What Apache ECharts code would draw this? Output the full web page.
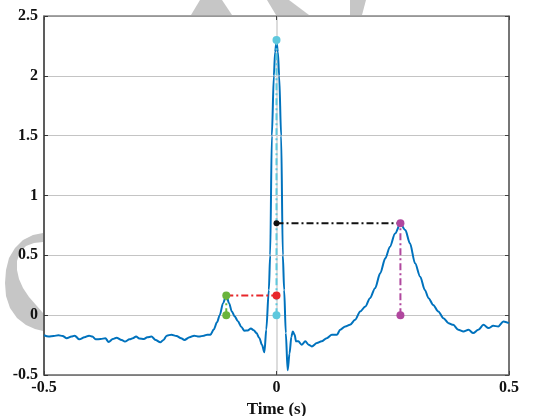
<!DOCTYPE html>
<html>
<head>
<meta charset="utf-8">
<script src="https://cdn.jsdelivr.net/npm/echarts@6/dist/echarts.min.js"></script>
<style>
    html, body { margin: 0; padding: 0; background: #fff; }
    #chart { width: 543px; height: 416px; }
</style>
</head>
<body>
<div id="chart"></div>
<script>
// waveform samples (time in s, amplitude)
var timeS = [
    -0.500, -0.490, -0.479, -0.469, -0.460, -0.451, -0.441, -0.434, -0.424, -0.413,
    -0.403, -0.396, -0.389, -0.378, -0.368, -0.361, -0.352, -0.344, -0.333, -0.326,
    -0.316, -0.309, -0.302, -0.295, -0.285, -0.278, -0.269, -0.260, -0.250, -0.243,
    -0.236, -0.226, -0.215, -0.205, -0.198, -0.187, -0.177, -0.167, -0.156, -0.149,
    -0.142, -0.135, -0.128, -0.122, -0.115, -0.108, -0.102, -0.096, -0.090, -0.083,
    -0.076, -0.069, -0.062, -0.055, -0.049, -0.043, -0.037, -0.031, -0.026, -0.022,
    -0.0165, -0.0136, -0.010, -0.0057, -0.003, 0, 0.003, 0.0057, 0.010, 0.0136,
    0.0165, 0.020, 0.024, 0.028, 0.032, 0.035, 0.039, 0.042, 0.047, 0.054,
    0.062, 0.069, 0.076, 0.087, 0.097, 0.108, 0.119, 0.130, 0.137, 0.148,
    0.158, 0.169, 0.180, 0.191, 0.201, 0.212, 0.223, 0.234, 0.244, 0.255,
    0.2665, 0.277, 0.287, 0.298, 0.309, 0.319, 0.327, 0.337, 0.348, 0.359,
    0.370, 0.380, 0.391, 0.402, 0.413, 0.423, 0.434, 0.445, 0.456, 0.466,
    0.477, 0.488, 0.500
];
var ecg = [
    -0.168, -0.179, -0.174, -0.168, -0.174, -0.193, -0.179, -0.171, -0.202, -0.185,
    -0.171, -0.179, -0.202, -0.199, -0.193, -0.224, -0.199, -0.188, -0.207, -0.221,
    -0.202, -0.193, -0.179, -0.196, -0.199, -0.185, -0.179, -0.207, -0.227, -0.207,
    -0.171, -0.163, -0.174, -0.193, -0.207, -0.185, -0.171, -0.179, -0.171, -0.163,
    -0.163, -0.120, -0.060, 0.000, 0.100, 0.165, 0.100, 0.030, -0.010, -0.050,
    -0.096, -0.130, -0.128, -0.112, -0.125, -0.150, -0.190, -0.250, -0.310, -0.120,
    0.210, 0.500, 1.500, 2.000, 2.200, 2.285, 2.200, 2.000, 1.500, 0.500,
    0.210, -0.150, -0.460, -0.320, -0.180, -0.136, -0.164, -0.219, -0.219, -0.247,
    -0.219, -0.247, -0.261, -0.233, -0.219, -0.192, -0.164, -0.164, -0.122, -0.094,
    -0.081, -0.039, 0.031, 0.072, 0.142, 0.225, 0.350, 0.475, 0.572, 0.683,
    0.765, 0.711, 0.600, 0.433, 0.322, 0.211, 0.142, 0.086, 0.031, -0.025,
    -0.067, -0.081, -0.122, -0.136, -0.122, -0.150, -0.122, -0.081, -0.108, -0.089,
    -0.094, -0.053, -0.067
];

// annotated points
var rPeak = [0, 2.30];
var pPeak = [-0.108, 0.164];
var tPeak = [0.2665, 0.768];

var wave = [];
for (var i = 0; i < timeS.length; i++) {
    wave.push([timeS[i], ecg[i]]);
}

var dashDot = [7, 3, 2, 3];
var font = "'Liberation Serif', 'DejaVu Serif', serif";
var wmGrey = "#c6c6c6";

function markLine(name, color, pts, z) {
    return {
        name: name,
        type: "line",
        data: pts,
        symbol: "circle",
        symbolSize: 8,
        showSymbol: true,
        itemStyle: { color: color },
        lineStyle: { color: color, width: 2, type: dashDot },
        z: z,
        silent: true
    };
}

var chart = echarts.init(document.getElementById("chart"));
var option = {
    animation: false,
    backgroundColor: "#fff",
    grid: { left: 44, right: 34, top: 16, bottom: 41, outerBoundsMode: "none", containLabel: false },
    graphic: [
        // grey watermark pieces outside the plot frame
        { type: "polygon", z: -10, shape: { points: [[200, 0], [222, 0], [232, 15], [191, 15]] }, style: { fill: wmGrey } },
        { type: "polygon", z: -10, shape: { points: [[267, 0], [289, 0], [309, 15], [276, 15]] }, style: { fill: wmGrey } },
        { type: "polygon", z: -10, shape: { points: [[350, 0], [366, 0], [362, 15], [350, 15]] }, style: { fill: wmGrey } },
        {
            type: "polygon", z: -10,
            shape: { points: [
                [43, 233], [33, 235], [23, 240], [15, 248], [9, 258], [6, 270], [5, 283],
                [6, 296], [10, 308], [17, 318], [26, 325], [35, 329], [43, 331],
                [43, 313], [36, 305], [29, 297], [23, 288], [19, 279], [17, 270],
                [17, 261], [20, 252], [26, 246], [34, 243], [43, 242]
            ] },
            style: { fill: wmGrey }
        }
    ],
    xAxis: [{
        type: "value",
        min: -0.5, max: 0.5, interval: 0.5,
        name: "Time (s)",
        nameLocation: "middle",
        nameGap: 23,
        nameTextStyle: { fontFamily: font, fontSize: 17, fontWeight: "bold", color: "#111" },
        axisLine: { show: true, onZero: false, lineStyle: { color: "#666", width: 1.5 } },
        axisTick: { show: true, inside: true, length: 4, lineStyle: { color: "#444" } },
        axisLabel: { fontFamily: font, fontSize: 16, fontWeight: "bold", color: "#111", margin: 5 },
        splitLine: { show: true, lineStyle: { color: "#dcdcdc", width: 2 } }
    }, {
        type: "value",
        position: "top",
        min: -0.5, max: 0.5, interval: 0.5,
        axisLine: { show: true, onZero: false, lineStyle: { color: "#888", width: 1.5 } },
        axisTick: { show: true, inside: true, length: 4, lineStyle: { color: "#444" } },
        axisLabel: { show: false },
        splitLine: { show: false }
    }],
    yAxis: [{
        type: "value",
        min: -0.5, max: 2.5, interval: 0.5,
        axisLine: { show: true, onZero: false, lineStyle: { color: "#333", width: 1.5 } },
        axisTick: { show: true, inside: true, length: 4, lineStyle: { color: "#333" } },
        axisLabel: { fontFamily: font, fontSize: 16, fontWeight: "bold", color: "#111", margin: 6 },
        splitLine: { show: true, lineStyle: { color: "#c4c4c4", width: 1 } }
    }, {
        type: "value",
        position: "right",
        min: -0.5, max: 2.5, interval: 0.5,
        axisLine: { show: true, onZero: false, lineStyle: { color: "#555", width: 1.5 } },
        axisTick: { show: true, inside: true, length: 4, lineStyle: { color: "#444" } },
        axisLabel: { show: false },
        splitLine: { show: false }
    }],
    series: [
        {
            name: "ECG",
            type: "line",
            data: wave,
            showSymbol: false,
            smooth: 0.3,
            smoothMonotone: "x",
            lineStyle: { color: "#0072BD", width: 2 },
            z: 2,
            silent: true
        },
        markLine("R", "#5ec8dd", [[rPeak[0], 0], rPeak], 3),
        markLine("PR", "#e8262a", [
            { value: pPeak, symbol: "none" },
            { value: [0, pPeak[1]] }
        ], 4),
        markLine("P", "#6ab43c", [[pPeak[0], 0], pPeak], 5),
        markLine("RT", "#111", [
            { value: [0, tPeak[1]], symbolSize: 6 },
            { value: tPeak, symbol: "none" }
        ], 6),
        markLine("T", "#b0479e", [[tPeak[0], 0], tPeak], 7)
    ]
};
chart.setOption(option);
</script>
</body>
</html>
